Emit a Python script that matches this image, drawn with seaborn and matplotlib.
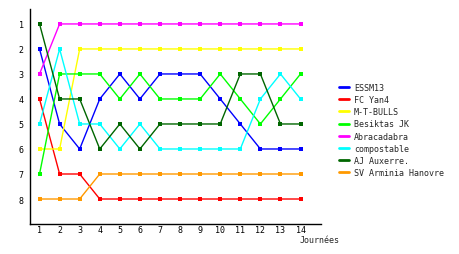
import matplotlib
matplotlib.use("Agg")
import matplotlib.pyplot as plt
from matplotlib.lines import Line2D
import seaborn as sns
import pandas as pd

journees = list(range(1, 15))
teams = ["ESSM13", "FC Yan4", "M-T-BULLS", "Besiktas JK", "Abracadabra",
         "compostable", "AJ Auxerre.", "SV Arminia Hanovre"]
colors = ["#0000ff", "#ff0000", "#ffff00", "#00ff00", "#ff00ff",
          "#00ffff", "#006600", "#ff9900"]

essm13 = [2, 5, 6, 4, 3, 4, 3, 3, 3, 4, 5, 6, 6, 6]
fc_yan4 = [4, 7, 7, 8, 8, 8, 8, 8, 8, 8, 8, 8, 8, 8]
mt_bulls = [6, 6, 2, 2, 2, 2, 2, 2, 2, 2, 2, 2, 2, 2]
besiktas = [7, 3, 3, 3, 4, 3, 4, 4, 4, 3, 4, 5, 4, 3]
abracadabra = [3, 1, 1, 1, 1, 1, 1, 1, 1, 1, 1, 1, 1, 1]
compostable = [5, 2, 5, 5, 6, 5, 6, 6, 6, 6, 6, 4, 3, 4]
auxerre = [1, 4, 4, 6, 5, 6, 5, 5, 5, 5, 3, 3, 5, 5]
arminia = [8, 8, 8, 7, 7, 7, 7, 7, 7, 7, 7, 7, 7, 7]
series = [essm13, fc_yan4, mt_bulls, besiktas, abracadabra,
          compostable, auxerre, arminia]
ytick_labels = ["1", "2", "3", "4", "5", "6", "7", "8"]

rows = []
for t, vals in zip(teams, series):
    for j, v in zip(journees, vals):
        rows.append({"Journée": j, "Rang": v, "Equipe": t})
df = pd.DataFrame(rows)

sns.set_style("white")
plt.rcParams["font.family"] = ["DejaVu Sans Mono", "DejaVu Sans"]

fig = plt.figure(figsize=(4.6, 2.55), dpi=100)
ax = fig.add_axes([0.0663, 0.1176, 0.697 - 0.0663, 0.961 - 0.1176])
sns.lineplot(data=df, x="Journée", y="Rang", hue="Equipe", hue_order=teams,
             palette=colors, marker="s", markersize=2.6, markeredgewidth=0,
             linewidth=1.0, legend=False, ax=ax, sort=False)

ax.set_xlim(0.55, 15.0)
ax.set_ylim(9, 0.4)
ax.set_xticks(journees)
ax.set_xticklabels([str(j) for j in journees])
ax.set_yticks(range(1, 9))
ax.set_yticklabels(ytick_labels)
ax.tick_params(axis="both", length=0, labelsize=6, colors="black")
ax.tick_params(axis="x", pad=1)
ax.tick_params(axis="y", pad=5)
for s in ["top", "right"]:
    ax.spines[s].set_visible(False)
for s in ["left", "bottom"]:
    ax.spines[s].set_color("black")
    ax.spines[s].set_linewidth(1.0)
ax.set_xlabel("")
ax.set_ylabel("")
fig.text(300 / 460, 1 - 241 / 255, "Journées", fontsize=6, ha="left", va="center")

handles = [Line2D([0], [0], color=c, lw=2) for c in colors]
leg = fig.legend(handles, teams, loc="upper left",
                 bbox_to_anchor=(339 / 460, 1 - 84 / 255), frameon=False,
                 fontsize=6, handlelength=1.2, handletextpad=0.6,
                 labelspacing=0.38, borderaxespad=0, borderpad=0)

fig.savefig("out.png", dpi=100)
